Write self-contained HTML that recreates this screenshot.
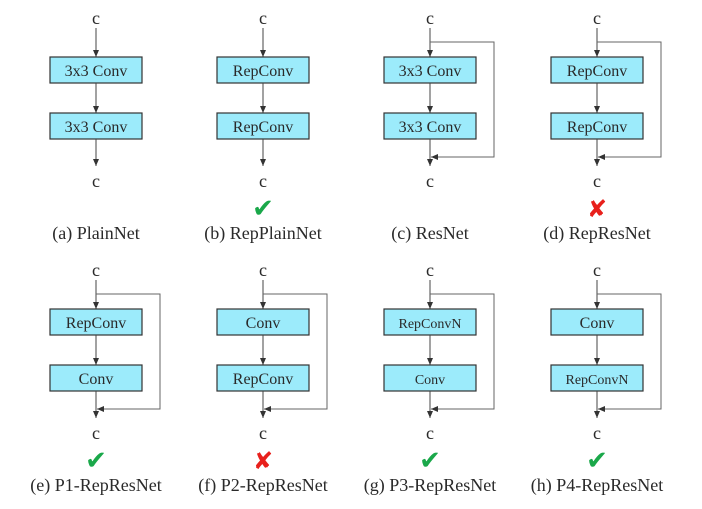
<!DOCTYPE html>
<html><head><meta charset="utf-8"><style>
html,body{margin:0;padding:0;background:#fff;}
svg{display:block;}
text{font-family:"Liberation Serif",serif;fill:#2a2a2a;}
</style></head><body>
<svg width="702" height="509" viewBox="0 0 702 509" xmlns="http://www.w3.org/2000/svg">
<defs>
<marker id="ah" markerWidth="8" markerHeight="8" refX="7" refY="4" orient="auto" markerUnits="userSpaceOnUse">
<path d="M0,1 L7,4 L0,7 Z" fill="#333"/></marker>
<g id="plain">
<text x="0" y="24" font-size="18" text-anchor="middle">c</text>
<line x1="0" y1="28" x2="0" y2="57" stroke="#444" stroke-width="1" marker-end="url(#ah)"/>
<rect x="-46" y="57" width="92" height="26" fill="#9cebfb" stroke="#333" stroke-width="1.2"/>
<line x1="0" y1="83" x2="0" y2="113" stroke="#444" stroke-width="1" marker-end="url(#ah)"/>
<rect x="-46" y="113" width="92" height="26" fill="#9cebfb" stroke="#333" stroke-width="1.2"/>
<line x1="0" y1="139" x2="0" y2="166" stroke="#444" stroke-width="1" marker-end="url(#ah)"/>
<text x="0" y="187" font-size="18" text-anchor="middle">c</text>
</g>
<g id="loop">
<polyline points="0,42 64,42 64,157 1,157" fill="none" stroke="#666" stroke-width="1" marker-end="url(#ah)"/>
</g>
</defs>

<g transform="translate(96,0)"><use href="#plain"/>
<text x="0" y="76" font-size="16" text-anchor="middle">3x3 Conv</text>
<text x="0" y="132" font-size="16" text-anchor="middle">3x3 Conv</text></g>
<g transform="translate(263,0)"><use href="#plain"/>
<text x="0" y="76" font-size="16" text-anchor="middle">RepConv</text>
<text x="0" y="132" font-size="16" text-anchor="middle">RepConv</text></g>
<g transform="translate(430,0)"><use href="#plain"/><use href="#loop"/>
<text x="0" y="76" font-size="16" text-anchor="middle">3x3 Conv</text>
<text x="0" y="132" font-size="16" text-anchor="middle">3x3 Conv</text></g>
<g transform="translate(597,0)"><use href="#plain"/><use href="#loop"/>
<text x="0" y="76" font-size="16" text-anchor="middle">RepConv</text>
<text x="0" y="132" font-size="16" text-anchor="middle">RepConv</text></g>

<text x="263" y="217" font-size="26" text-anchor="middle" style="fill:#1aa84a" font-family="DejaVu Sans">✔</text>
<text x="597" y="217" font-size="24" text-anchor="middle" style="fill:#e8201c" font-family="DejaVu Sans">✘</text>

<text x="96" y="239" font-size="18" text-anchor="middle">(a) PlainNet</text>
<text x="263" y="239" font-size="18" text-anchor="middle">(b) RepPlainNet</text>
<text x="430" y="239" font-size="18" text-anchor="middle">(c) ResNet</text>
<text x="597" y="239" font-size="18" text-anchor="middle">(d) RepResNet</text>

<g transform="translate(96,252)"><use href="#plain"/><use href="#loop"/>
<text x="0" y="76" font-size="16" text-anchor="middle">RepConv</text>
<text x="0" y="132" font-size="16" text-anchor="middle">Conv</text></g>
<g transform="translate(263,252)"><use href="#plain"/><use href="#loop"/>
<text x="0" y="76" font-size="16" text-anchor="middle">Conv</text>
<text x="0" y="132" font-size="16" text-anchor="middle">RepConv</text></g>
<g transform="translate(430,252)"><use href="#plain"/><use href="#loop"/>
<text x="0" y="76" font-size="14" text-anchor="middle">RepConvN</text>
<text x="0" y="132" font-size="14" text-anchor="middle">Conv</text></g>
<g transform="translate(597,252)"><use href="#plain"/><use href="#loop"/>
<text x="0" y="76" font-size="16" text-anchor="middle">Conv</text>
<text x="0" y="132" font-size="14" text-anchor="middle">RepConvN</text></g>

<text x="96" y="469" font-size="26" text-anchor="middle" style="fill:#1aa84a" font-family="DejaVu Sans">✔</text>
<text x="263" y="469" font-size="24" text-anchor="middle" style="fill:#e8201c" font-family="DejaVu Sans">✘</text>
<text x="430" y="469" font-size="26" text-anchor="middle" style="fill:#1aa84a" font-family="DejaVu Sans">✔</text>
<text x="597" y="469" font-size="26" text-anchor="middle" style="fill:#1aa84a" font-family="DejaVu Sans">✔</text>

<text x="96" y="491" font-size="18" text-anchor="middle">(e) P1-RepResNet</text>
<text x="263" y="491" font-size="18" text-anchor="middle">(f) P2-RepResNet</text>
<text x="430" y="491" font-size="18" text-anchor="middle">(g) P3-RepResNet</text>
<text x="597" y="491" font-size="18" text-anchor="middle">(h) P4-RepResNet</text>
</svg>
</body></html>
